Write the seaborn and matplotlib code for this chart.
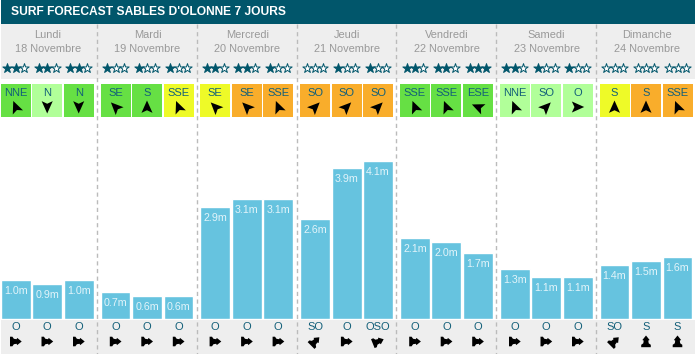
import numpy as np
import matplotlib
matplotlib.use("Agg")
import matplotlib.pyplot as plt
import seaborn as sns
import pandas as pd

title = "SURF FORECAST SABLES D'OLONNE 7 JOURS"
days = ["Lundi", "Mardi", "Mercredi", "Jeudi", "Vendredi", "Samedi", "Dimanche"]
dates = ["18 Novembre", "19 Novembre", "20 Novembre", "21 Novembre",
         "22 Novembre", "23 Novembre", "24 Novembre"]

heights = [1.0, 0.9, 1.0, 0.7, 0.6, 0.6, 2.9, 3.1, 3.1, 2.6, 3.9, 4.1,
           2.1, 2.0, 1.7, 1.3, 1.1, 1.1, 1.4, 1.5, 1.6]
stars = [2, 2, 2, 1, 1, 1, 2, 2, 1, 0, 1, 1, 2, 2, 3, 2, 1, 1, 0, 0, 0]
wind_dirs = ["NNE", "N", "N", "SE", "S", "SSE", "SE", "SE", "SSE", "SO", "SO", "SO",
             "SSE", "SSE", "ESE", "NNE", "SO", "O", "S", "S", "SSE"]
wind_levels = ["g", "l", "g", "g", "g", "y", "y", "o", "o", "o", "o", "o",
               "g", "g", "g", "l", "l", "l", "y", "o", "o"]
swell_dirs = ["O", "O", "O", "O", "O", "O", "O", "O", "O", "SO", "O", "OSO",
              "O", "O", "O", "O", "O", "O", "SO", "S", "S"]

level_colors = {"g": "#66E044", "l": "#B1FF99", "y": "#EEFA28", "o": "#F9AD2B"}
# heading of the arrow tip as it looks in the picture, degrees clockwise from up
wind_angle = {"N": 180, "NNE": -22, "S": 0, "SE": -45, "SSE": -22, "ESE": -67, "SO": 45, "O": 90}
swell_angle = {"O": 90, "SO": 45, "OSO": 68, "S": 0}

teal = "#01566B"
text_col = "#125F79"
bar_col = "#66C3DF"
band_col = "#EEEEEE"

W, H = 695, 354
base_y = 319
px_per_m = 38.6


def centre(i):
    d, s = divmod(i, 3)
    return 15.7 + 99.8 * d + 31.5 * s


def draw_shape(ax, pts, x, y, angle, scale):
    a = np.radians(angle)
    p = np.array(pts) * scale
    xs = x + p[:, 0] * np.cos(a) + p[:, 1] * np.sin(a)
    ys = y - (-p[:, 0] * np.sin(a) + p[:, 1] * np.cos(a))
    ax.fill(xs, ys, color="black", lw=0, zorder=4)


arrow_shape = [(0, 1), (0.85, -0.9), (0, -0.5), (-0.85, -0.9)]
swell_shape = [(0, 1), (0.6, 0.25), (0.38, 0.15), (0.45, -0.3), (0.8, -0.55), (0.8, -0.95),
               (-0.8, -0.95), (-0.8, -0.55), (-0.45, -0.3), (-0.38, 0.15), (-0.6, 0.25)]

sns.set_theme(style="white")
plt.rcParams["font.family"] = ["Liberation Sans", "DejaVu Sans"]

fig = plt.figure(figsize=(W / 100, H / 100), dpi=100)
bg = fig.add_axes([0, 0, 1, 1])
bg.set_xlim(0, W)
bg.set_ylim(H, 0)
bg.axis("off")

# header and grey bands
bg.axhspan(0, 24, xmin=1 / W, color=teal, lw=0)
bg.axhspan(24, 79, xmin=1 / W, color=band_col, lw=0)
bg.axhspan(320, H, xmin=1 / W, color=band_col, lw=0)
bg.text(11, 12, title, color="white", fontsize=8.65, fontweight="bold", va="center", ha="left")

for d in range(7):
    cx = centre(d * 3 + 1)
    bg.text(cx + 0.5, 35.5, days[d], color="#999999", fontsize=7.9, ha="center", va="center")
    bg.text(cx + 0.5, 48.5, dates[d], color="#999999", fontsize=7.9, ha="center", va="center")
    if d > 0:
        sep = cx - 50
        bg.plot([sep, sep], [24, H], color="#BBBBBB", lw=1, ls=(0, (3, 2.5)), zorder=3)

for i in range(len(heights)):
    x = centre(i)
    for k in range(3):
        filled = k < stars[i]
        bg.scatter(x + (k - 1) * 8.4, 67.5, marker="*", s=50, lw=0.7, edgecolor=teal,
                   facecolor=teal if filled else "white", zorder=4)
    bg.add_patch(plt.Rectangle((x - 15, 84), 30, 33, color=level_colors[wind_levels[i]], lw=0))
    bg.text(x, 92.5, wind_dirs[i], color=text_col, fontsize=8, ha="center", va="center", zorder=4)
    draw_shape(bg, arrow_shape, x, 107, wind_angle[wind_dirs[i]], 6.5)
    bg.text(x, 327.5, swell_dirs[i], color=text_col, fontsize=8, ha="center", va="center", zorder=4)
    draw_shape(bg, swell_shape, x, 341.5, swell_angle[swell_dirs[i]], 6)

# wave height bars
df = pd.DataFrame({"pos": [centre(i) for i in range(len(heights))], "height": heights})
ax = fig.add_axes([0, 1 - base_y / H, 1, base_y / H])
ax.patch.set_alpha(0)
sns.barplot(data=df, x="pos", y="height", native_scale=True, color=bar_col, saturation=1,
            width=0.95, errorbar=None, ax=ax)
ax.set_xlim(0, W)
ax.set_ylim(0, base_y / px_per_m)
ax.axis("off")
ax.bar_label(ax.containers[0], fmt="%.1fm", label_type="edge", padding=-11.5,
             color="#E2F4FA", fontsize=7.7)

fig.savefig("out.png", dpi=100)
